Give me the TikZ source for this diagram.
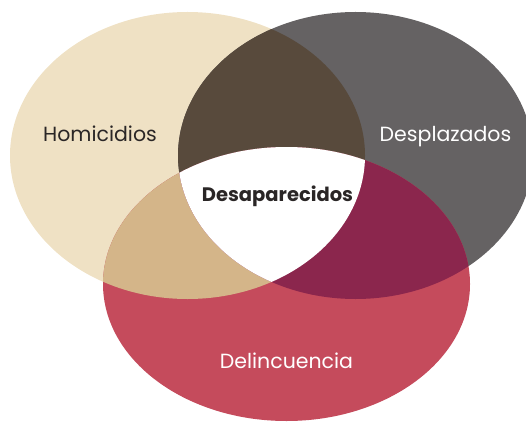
\documentclass[tikz,border=0pt]{standalone}
\usepackage{fontspec}
\setmainfont{Poppins}
\usetikzlibrary{positioning}
\definecolor{beige}{HTML}{EFE1C4}
\definecolor{gris}{HTML}{656263}
\definecolor{rojo}{HTML}{C54B5C}
\definecolor{cafe}{HTML}{584A3C}
\definecolor{arena}{HTML}{D4B589}
\definecolor{vino}{HTML}{8B264D}
\definecolor{tinta}{HTML}{2A2626}
\def\elHom{(187.5,155.5) ellipse [x radius=177.5, y radius=143.5]}
\def\elDes{(355.5,155.5) ellipse [x radius=177.5, y radius=143.5]}
\def\elDel{(286.5,284) ellipse [x radius=183.5, y radius=137]}
\tikzset{
	etiqueta/.style={anchor=base, inner sep=0pt, font=\fontsize{20.5}{22}\selectfont},
	oscura/.style={etiqueta, text=tinta},
	clara/.style={etiqueta, text=white}
}

\begin{document}
\begin{tikzpicture}[x=1pt, y=-1pt]
			%%%%% START %%%%%
			\useasboundingbox (0, 0) rectangle (526, 422);
			
			\fill[beige] \elHom;
			\fill[gris] \elDes;
			\fill[rojo] \elDel;
			
			% dos a dos
			\begin{scope}
				\clip \elHom;
				\fill[cafe] \elDes;
				\fill[arena] \elDel;
			\end{scope}
			\begin{scope}
				\clip \elDes;
				\fill[vino] \elDel;
			\end{scope}
			
			% los tres
			\begin{scope}
				\clip \elHom;
				\clip \elDes;
				\fill[white] \elDel;
			\end{scope}
			
			\node[oscura] (hom) at (100, 142) {Homicidios};
			\node[clara] (des) at (445.5, 142) {Desplazados};
			\node[oscura, font=\fontsize{19.5}{21}\selectfont\bfseries] (desap) at (277.5, 201) {Desaparecidos};
			\node[clara] (del) at (286.5, 368) {Delincuencia};
			
			%%%%% END %%%%%
		\end{tikzpicture}
\end{document}
